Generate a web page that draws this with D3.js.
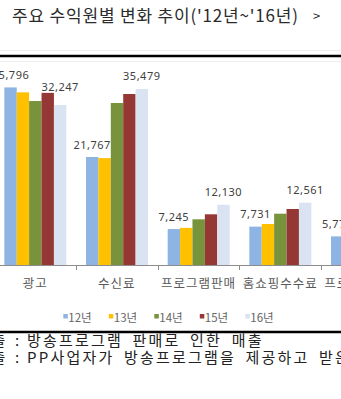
<!DOCTYPE html>
<html>
<head>
<meta charset="utf-8">
<script src="https://cdn.jsdelivr.net/npm/d3@7"></script>
<style>
  html, body { margin: 0; padding: 0; background: #fff; overflow: hidden; }
  svg { display: block; }
</style>
</head>
<body>
<svg id="chart" width="341" height="399"></svg>
<script>
// Revenue source categories (the last one runs past the right edge)
const categories = ["광고", "수신료", "프로그램판매", "홈쇼핑수수료", "프로그램제공"];
const years = ["12년", "13년", "14년", "15년", "16년"];

// Yearly revenue per category (백만원), one array per year
const y12 = [35796, 21767, 7245, 7731, 5772];
const y13 = [34800, 21550, 7480, 8265, null];
const y14 = [33050, 32655, 9210, 10340, null];
const y15 = [34700, 34470, 10220, 11290, null];
const y16 = [32247, 35479, 12130, 12561, null];
const seriesValues = [y12, y13, y14, y15, y16];

// Value labels shown above bars: [category index, year index, extra lift]
const labelCategory = [0, 0, 1, 1, 2, 2, 3, 3, 4];
const labelYear     = [0, 4, 0, 4, 0, 4, 0, 4, 0];
const labelLift     = [0, 6, 0, 0, 0, 0, 0, 0, 0];

const axisMax = 40000;
const colors = ["#8db4e2", "#ffc000", "#77933c", "#953735", "#d9e3f1"];

const footPrefix = ["프로그램판매매출", "프로그램제공매출"];
const footBody = ["방송프로그램 판매로 인한 매출", "PP사업자가 방송프로그램을 제공하고 받은 매출"];

const svg = d3.select("#chart");
const KR = "'Noto Sans CJK KR', 'Noto Sans', sans-serif";

// Header
svg.append("text")
  .attr("x", 12).attr("y", 22)
  .attr("font-family", KR).attr("font-size", 17).attr("fill", "#2b2b2b")
  .attr("textLength", 286).attr("lengthAdjust", "spacing")
  .text("주요 수익원별 변화 추이('12년~'16년)");
svg.append("text")
  .attr("x", 313).attr("y", 21)
  .attr("font-family", KR).attr("font-size", 13).attr("fill", "#2b2b2b")
  .text(">");

svg.append("line").attr("x1", 0).attr("x2", 341).attr("y1", 50.5).attr("y2", 50.5)
  .attr("stroke", "#efefef").attr("stroke-width", 1);
svg.append("line").attr("x1", 0).attr("x2", 341).attr("y1", 56).attr("y2", 56)
  .attr("stroke", "#000").attr("stroke-width", 2.4);
svg.append("line").attr("x1", 0).attr("x2", 341).attr("y1", 61.5).attr("y2", 61.5)
  .attr("stroke", "#ececec").attr("stroke-width", 1);

// Scales
const bandW = 81.67;
const x0 = d3.scaleBand().domain(categories)
  .range([-5.67, -5.67 + bandW * categories.length]).padding(0);
const x1 = d3.scaleBand().domain(years).range([10, 72]).padding(0);
const y = d3.scaleLinear().domain([0, axisMax]).range([265, 66.56]);

// Bars
const groups = svg.append("g").selectAll("g")
  .data(categories).join("g")
  .attr("transform", d => `translate(${x0(d)},0)`);

groups.selectAll("rect")
  .data((c, ci) => years.map((yr, yi) => ({ yr, yi, v: seriesValues[yi][ci] }))
    .filter(d => d.v != null))
  .join("rect")
  .attr("x", d => x1(d.yr))
  .attr("width", x1.bandwidth())
  .attr("y", d => y(d.v))
  .attr("height", d => y(0) - y(d.v))
  .attr("fill", d => colors[d.yi]);

// Category axis along the baseline, ticks between categories
const axis = d3.axisBottom(x0).tickSize(0).tickPadding(14);
const axisG = svg.append("g").attr("transform", "translate(0,265)").call(axis);
axisG.select(".domain").remove();
axisG.selectAll("text")
  .attr("font-family", KR).attr("font-size", 12.5).attr("fill", "#595959")
  .attr("letter-spacing", 1);
svg.append("line").attr("x1", 0).attr("x2", 341).attr("y1", 265.5).attr("y2", 265.5)
  .attr("stroke", "#8c8c8c").attr("stroke-width", 1);
svg.append("g").selectAll("line")
  .data(categories.slice(1))
  .join("line")
  .attr("x1", d => Math.round(x0(d)) + 0.5).attr("x2", d => Math.round(x0(d)) + 0.5)
  .attr("y1", 265).attr("y2", 270)
  .attr("stroke", "#8c8c8c");

// Value labels
const fmt = d3.format(",");
svg.append("g").selectAll("text")
  .data(labelCategory.map((c, i) => ({ c, yi: labelYear[i], lift: labelLift[i] })))
  .join("text")
  .attr("x", d => x0(categories[d.c]) + x1(years[d.yi]) + x1.bandwidth() / 2)
  .attr("y", d => y(seriesValues[d.yi][d.c]) - 8.5 - d.lift)
  .attr("text-anchor", "middle")
  .attr("font-family", "'Noto Sans', sans-serif").attr("font-size", 11)
  .attr("letter-spacing", 0.5)
  .attr("fill", "#404040")
  .text(d => fmt(seriesValues[d.yi][d.c]));

// Legend
const legend = svg.append("g").selectAll("g")
  .data(years).join("g")
  .attr("transform", (d, i) => `translate(${63.3 + i * 45.5},0)`);
legend.append("rect").attr("x", 0).attr("y", 314).attr("width", 4.5).attr("height", 4.5)
  .attr("fill", (d, i) => colors[i]);
legend.append("text").attr("x", 5).attr("y", 321.5)
  .attr("font-family", KR).attr("font-size", 11.5).attr("fill", "#666")
  .text(d => d);

// Footer rule and notes: "<항목> : <설명>", colon and description at fixed columns
svg.append("line").attr("x1", 0).attr("x2", 341).attr("y1", 332).attr("y2", 332)
  .attr("stroke", "#000").attr("stroke-width", 2.4);
const footFont = 15;
footPrefix.forEach((f, i) => {
  const yy = 346 + i * 17;
  svg.append("text").attr("y", yy)
    .attr("font-family", KR).attr("font-size", footFont).attr("fill", "#222")
    .attr("text-anchor", "end").attr("x", 7.5)
    .attr("letter-spacing", 2.2)
    .text(f);
  svg.append("text").attr("x", 15).attr("y", yy)
    .attr("font-family", KR).attr("font-size", footFont).attr("fill", "#222")
    .text(":");
  svg.append("text").attr("x", 27).attr("y", yy)
    .attr("font-family", KR).attr("font-size", footFont).attr("fill", "#222")
    .attr("letter-spacing", 2.2).attr("word-spacing", 4)
    .text(footBody[i]);
});
</script>
</body>
</html>
